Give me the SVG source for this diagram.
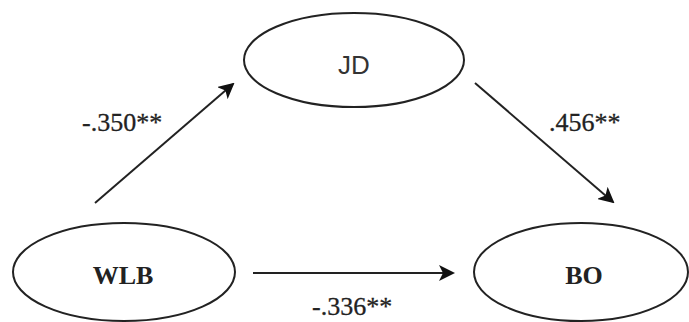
<svg xmlns="http://www.w3.org/2000/svg" width="689" height="322" viewBox="0 0 689 322">
<defs>
<marker id="ah" markerWidth="8" markerHeight="8" refX="7" refY="4" orient="auto" markerUnits="strokeWidth"><path d="M0,0 L8,4 L0,8 L2,4 Z" fill="#111"/></marker>
<style>
.node{fill:#fff;stroke:#222;stroke-width:2}
.conn{stroke:#222;stroke-width:2;fill:none;marker-end:url(#ah)}
.lbl{font-family:"Liberation Serif","Times New Roman",serif;font-size:26px;fill:#222;stroke:#222;stroke-width:0.3}
.sans{font-family:"Liberation Sans",Arial,sans-serif;font-size:26px;fill:#333}
.serifb{font-family:"Liberation Serif","Times New Roman",serif;font-weight:bold;font-size:26px;fill:#222}
</style>
</defs>
<rect width="689" height="322" fill="#fff"/>
<g id="JD"><ellipse class="node" cx="354" cy="60" rx="110" ry="47"/><text class="sans" x="354" y="74" text-anchor="middle">JD</text></g>
<g id="WLB"><ellipse class="node" cx="124" cy="272" rx="111" ry="49"/><text class="serifb" x="123" y="284" text-anchor="middle">WLB</text></g>
<g id="BO"><ellipse class="node" cx="581" cy="272" rx="107" ry="49"/><text class="serifb" x="584" y="284" text-anchor="middle">BO</text></g>
<g id="connectors">
<line class="conn" x1="95" y1="203" x2="233" y2="84"/>
<line class="conn" x1="475" y1="83" x2="613" y2="202"/>
<line class="conn" x1="253" y1="273" x2="453" y2="273"/>
<text class="lbl" x="82" y="131">-.350**</text>
<text class="lbl" x="549" y="131">.456**</text>
<text class="lbl" x="312" y="315">-.336**</text>
</g>
</svg>
